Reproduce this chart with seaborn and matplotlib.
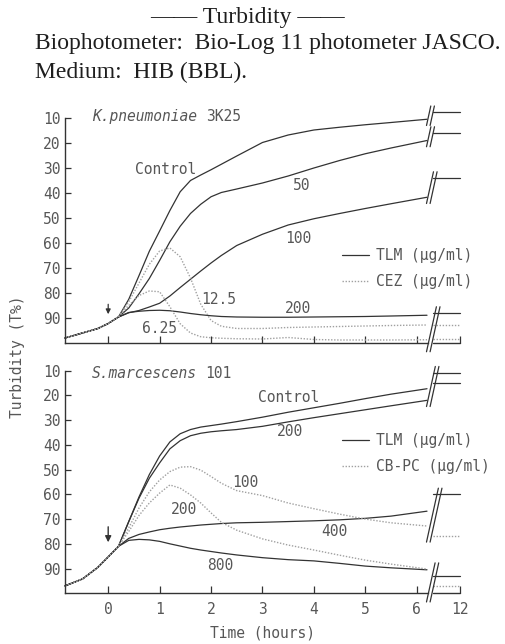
import numpy as np
import matplotlib
matplotlib.use("Agg")
import matplotlib.pyplot as plt
from matplotlib.lines import Line2D
import seaborn as sns

# ---- data (turbidity in T%) ----
hours_base = [-0.84, -0.5, -0.2, 0.0, 0.2]
hours = [0.4, 0.6, 0.8, 1.0, 1.2, 1.4, 1.6, 1.8, 2.0, 2.2, 2.5,
         3.0, 3.5, 4.0, 4.5, 5.0, 5.5, 6.2]
hours_post = [6.45, 12.0]

# K. pneumoniae 3K25
kp_base = [98.0, 96.0, 94.2, 92.2, 89.6]
kp_names = ["Control", "50", "100", "200", "12.5", "6.25"]
kp_drug = ["TLM", "TLM", "TLM", "TLM", "CEZ", "CEZ"]
kp_ctrl = [82.5, 73, 63.3, 55.2, 47, 39.5, 35, 32.8, 30.7, 28.5, 25.2, 19.8, 16.8, 14.8, 13.7, 12.7, 11.8, 10.5]
kp_tlm50 = [86, 80.3, 74.2, 67, 59.5, 53.3, 48.2, 44.5, 41.5, 39.8, 38.4, 36, 33.2, 30, 27, 24.3, 22, 19]
kp_tlm100 = [87.9, 87.0, 85.6, 84.1, 81.2, 77.8, 74.5, 71.2, 68, 65, 61, 56.5, 52.8, 50.3, 48.2, 46.2, 44.3, 41.7]
kp_tlm200 = [87.8, 87.3, 87.0, 86.9, 87.1, 87.6, 88.2, 88.7, 89.1, 89.4, 89.6, 89.7, 89.7, 89.6, 89.5, 89.4, 89.2, 88.9]
kp_cez125 = [83.5, 76, 68.5, 63.2, 62, 65.5, 74, 84.5, 91, 93.3, 94.2, 94.2, 93.8, 93.6, 93.4, 93.2, 93.0, 92.8]
kp_cez625 = [85, 81, 79.2, 79.5, 85.5, 92.3, 96, 97.5, 97.9, 98.1, 98.3, 98.4, 97.8, 98.6, 98.8, 98.8, 98.8, 98.7]
kp_post = [7.7, 16, 34, 88, 92.8, 98.5]   # value at 12 h

# S. marcescens 101
sm_base = [97.0, 94.2, 89.5, 85.3, 81.0]
sm_names = ["Control", "200", "400", "800", "100", "200"]
sm_drug = ["TLM", "TLM", "TLM", "TLM", "CB-PC", "CB-PC"]
sm_ctrl = [71, 61, 52, 44.5, 38.8, 35.5, 33.8, 32.8, 32.2, 31.6, 30.6, 28.8, 26.8, 25, 23.2, 21.3, 19.5, 17.3]
sm_tlm200 = [71, 61.5, 53.5, 47.3, 41.6, 38.3, 36.3, 35.3, 34.7, 34.3, 33.8, 32.5, 30.7, 29, 27.4, 25.8, 24.2, 22]
sm_tlm400 = [77.8, 76.2, 75.2, 74.3, 73.7, 73.2, 72.8, 72.4, 72.1, 71.8, 71.5, 71.3, 71, 70.7, 70.3, 69.7, 68.8, 66.8]
sm_tlm800 = [78.6, 78.2, 78.4, 79, 80, 80.9, 81.8, 82.5, 83.1, 83.7, 84.5, 85.6, 86.4, 86.9, 87.9, 89, 89.7, 90.5]
sm_cb100 = [73.5, 65.5, 59, 54.2, 50.8, 49, 48.8, 50.2, 52.8, 55.5, 58.5, 60.5, 63.5, 65.8, 68, 70, 71.5, 72.8]
sm_cb200 = [75, 68.5, 63.5, 59.5, 56.2, 57.5, 60.2, 63.5, 67.5, 71.3, 74.5, 78, 80.5, 82.5, 84.6, 86.6, 88.2, 90.2]
sm_post = [10.8, 15, 60, 93, 76.8, 97]

yticks = [10, 20, 30, 40, 50, 60, 70, 80, 90]
xticks = [0, 1, 2, 3, 4, 5, 6, 12]

# ---- style ----
sns.set_theme(style="ticks")
MONO = "DejaVu Sans Mono"
SERIF = "Liberation Serif"
INK = "#333333"
TXT = "#575757"
DOT = "#a0a0a0"
plt.rcParams["font.family"] = [MONO, "DejaVu Sans"]

BRK = 6.3      # hours where the time axis is broken
SQ = 0.095     # compression after the break


def fwd(t):
    t = np.asarray(t, dtype=float)
    return np.where(t <= BRK, t, BRK + (t - BRK) * SQ)


def inv(p):
    p = np.asarray(p, dtype=float)
    return np.where(p <= BRK, p, BRK + (p - BRK) / SQ)


def draw_panel(ax, base, series, drugs, post, groups, ax_height_px):
    for vals, drug, pv in zip(series, drugs, post):
        solid = drug == "TLM"
        kw = dict(color=INK if solid else DOT, linewidth=0.9 if solid else 1.0,
                  linestyle="-" if solid else (0, (1, 1.2)))
        sns.lineplot(x=hours_base + hours, y=base + vals, ax=ax, estimator=None,
                     sort=False, clip_on=False, **kw)
        sns.lineplot(x=hours_post, y=[pv, pv], ax=ax, estimator=None,
                     sort=False, clip_on=False, **kw)
    # x axis broken as the series are
    ax.set_xscale("function", functions=(fwd, inv))
    ax.set_xlim(-0.84, 12)
    ax.set_ylim(100, 5)
    ax.spines["left"].set_bounds(10, 100)
    ax.spines["bottom"].set_bounds(-0.84, 6.22)
    ax.plot([6.45, 12], [0, 0], transform=ax.get_xaxis_transform(),
            color=INK, lw=1.0, clip_on=False)
    sns.despine(ax=ax)
    for sp in ("left", "bottom"):
        ax.spines[sp].set_color(INK)
        ax.spines[sp].set_linewidth(1.0)
    # break slashes
    px_h = 395 / 7.68
    px_v = ax_height_px / 95
    for idx, to_axis in groups:
        vv = [s[-1] for s in (series[i] for i in idx)] + [post[i] for i in idx]
        lo = min(vv) - 2.5
        hi = 103.5 if to_axis else max(vv) + 2.5
        dx = 0.22 * (hi - lo) * px_v / px_h
        for x0 in (6.19, 6.26):
            ax.plot(inv([x0, x0 + dx]), [hi, lo], color=INK, lw=0.9, clip_on=False)
    ax.set_yticks(yticks)
    ax.set_yticklabels([str(v) for v in yticks])
    ax.set_xticks(xticks)
    ax.tick_params(axis="both", direction="in", colors=INK, labelcolor=TXT,
                   labelsize=10.5, width=0.9)
    ax.tick_params(axis="y", length=4, pad=3)
    ax.tick_params(axis="x", length=5, pad=6)
    ax.set_xlabel("")
    ax.set_ylabel("")


fig = plt.figure(figsize=(5.05, 6.44), dpi=100)
ax1 = fig.add_axes([65 / 505, (644 - 343) / 644, 395 / 505, 237.5 / 644])
ax2 = fig.add_axes([65 / 505, (644 - 593.3) / 644, 395 / 505, 235 / 644])

draw_panel(ax1, kp_base, [kp_ctrl, kp_tlm50, kp_tlm100, kp_tlm200, kp_cez125, kp_cez625],
           kp_drug, kp_post, [([0], False), ([1], False), ([2], False), ([3, 4, 5], True)], 237.5)
draw_panel(ax2, sm_base, [sm_ctrl, sm_tlm200, sm_tlm400, sm_tlm800, sm_cb100, sm_cb200],
           sm_drug, sm_post, [([0, 1], False), ([2, 4], False), ([3, 5], True)], 235)

ax1.tick_params(axis="x", labelbottom=False)
ax2.set_xticklabels([str(v) for v in xticks])

# curve labels
lab_kw = dict(ha="center", va="center", fontsize=10.5, color=TXT)
kp_label_pos = [(1.11, 30.4), (3.77, 37.2), (3.69, 58.1), (3.69, 86.3), (2.14, 82.5), (1.0, 94.1)]
for name, (x, y) in zip(kp_names, kp_label_pos):
    ax1.text(x, y, name, **lab_kw)
sm_label_pos = [(3.5, 20.7), (3.53, 34.7), (4.39, 75.0), (2.18, 88.7), (2.67, 55.2), (1.47, 66.0)]
for name, (x, y) in zip(sm_names, sm_label_pos):
    ax2.text(x, y, name, **lab_kw)

# organism names
for ax, sp, strain, y in ((ax1, "K.pneumoniae", "3K25", 9.4), (ax2, "S.marcescens", "101", 11.2)):
    t = ax.text(-0.31, y, sp, style="italic", ha="left", va="center", fontsize=10.5, color=TXT)
    ax.annotate(strain, xy=(1, 0.5), xycoords=t, xytext=(6, 0), textcoords="offset points",
                ha="left", va="center", fontsize=10.5, color=TXT)

# addition arrows
ax1.annotate("", xy=(0, 89.6), xytext=(0, 83.4),
             arrowprops=dict(arrowstyle="-|>", color=INK, lw=0.9, mutation_scale=7))
ax2.annotate("", xy=(0, 80.5), xytext=(0, 72.0),
             arrowprops=dict(arrowstyle="-|>", color=INK, lw=1.0, mutation_scale=9))

# legends
for ax, lbl, anchor in ((ax1, "CEZ (\u03bcg/ml)", (0.70, 0.40)), (ax2, "CB-PC (\u03bcg/ml)", (0.70, 0.68))):
    handles = [Line2D([], [], color=INK, lw=0.9),
               Line2D([], [], color=DOT, lw=1.0, linestyle=(0, (1, 1.2)))]
    ax.legend(handles, ["TLM (\u03bcg/ml)", lbl], loc="upper left", bbox_to_anchor=anchor,
              frameon=False, borderpad=0, borderaxespad=0, handlelength=1.9,
              handletextpad=0.5, labelspacing=0.75, fontsize=10.5, labelcolor=TXT)

fig.text(18 / 505, 1 - 357 / 644, "Turbidity (T%)", rotation=90, ha="center", va="center",
         fontsize=10.5, color=TXT)
fig.text(262 / 505, 1 - 633 / 644, "Time (hours)", ha="center", va="center",
         fontsize=10.5, color=TXT)

# header
fig.text(247 / 505, 1 - 17 / 644, "\u2014\u2014 Turbidity \u2014\u2014", ha="center", va="center",
         family=SERIF, fontsize=17, color="#1e1e1e")
fig.text(35 / 505, 1 - 43 / 644, "Biophotometer:  Bio-Log 11 photometer JASCO.", ha="left",
         va="center", family=SERIF, fontsize=17, color="#1e1e1e")
fig.text(35 / 505, 1 - 72 / 644, "Medium:  HIB (BBL).", ha="left", va="center",
         family=SERIF, fontsize=17, color="#1e1e1e")

fig.savefig("out.png", dpi=100)
